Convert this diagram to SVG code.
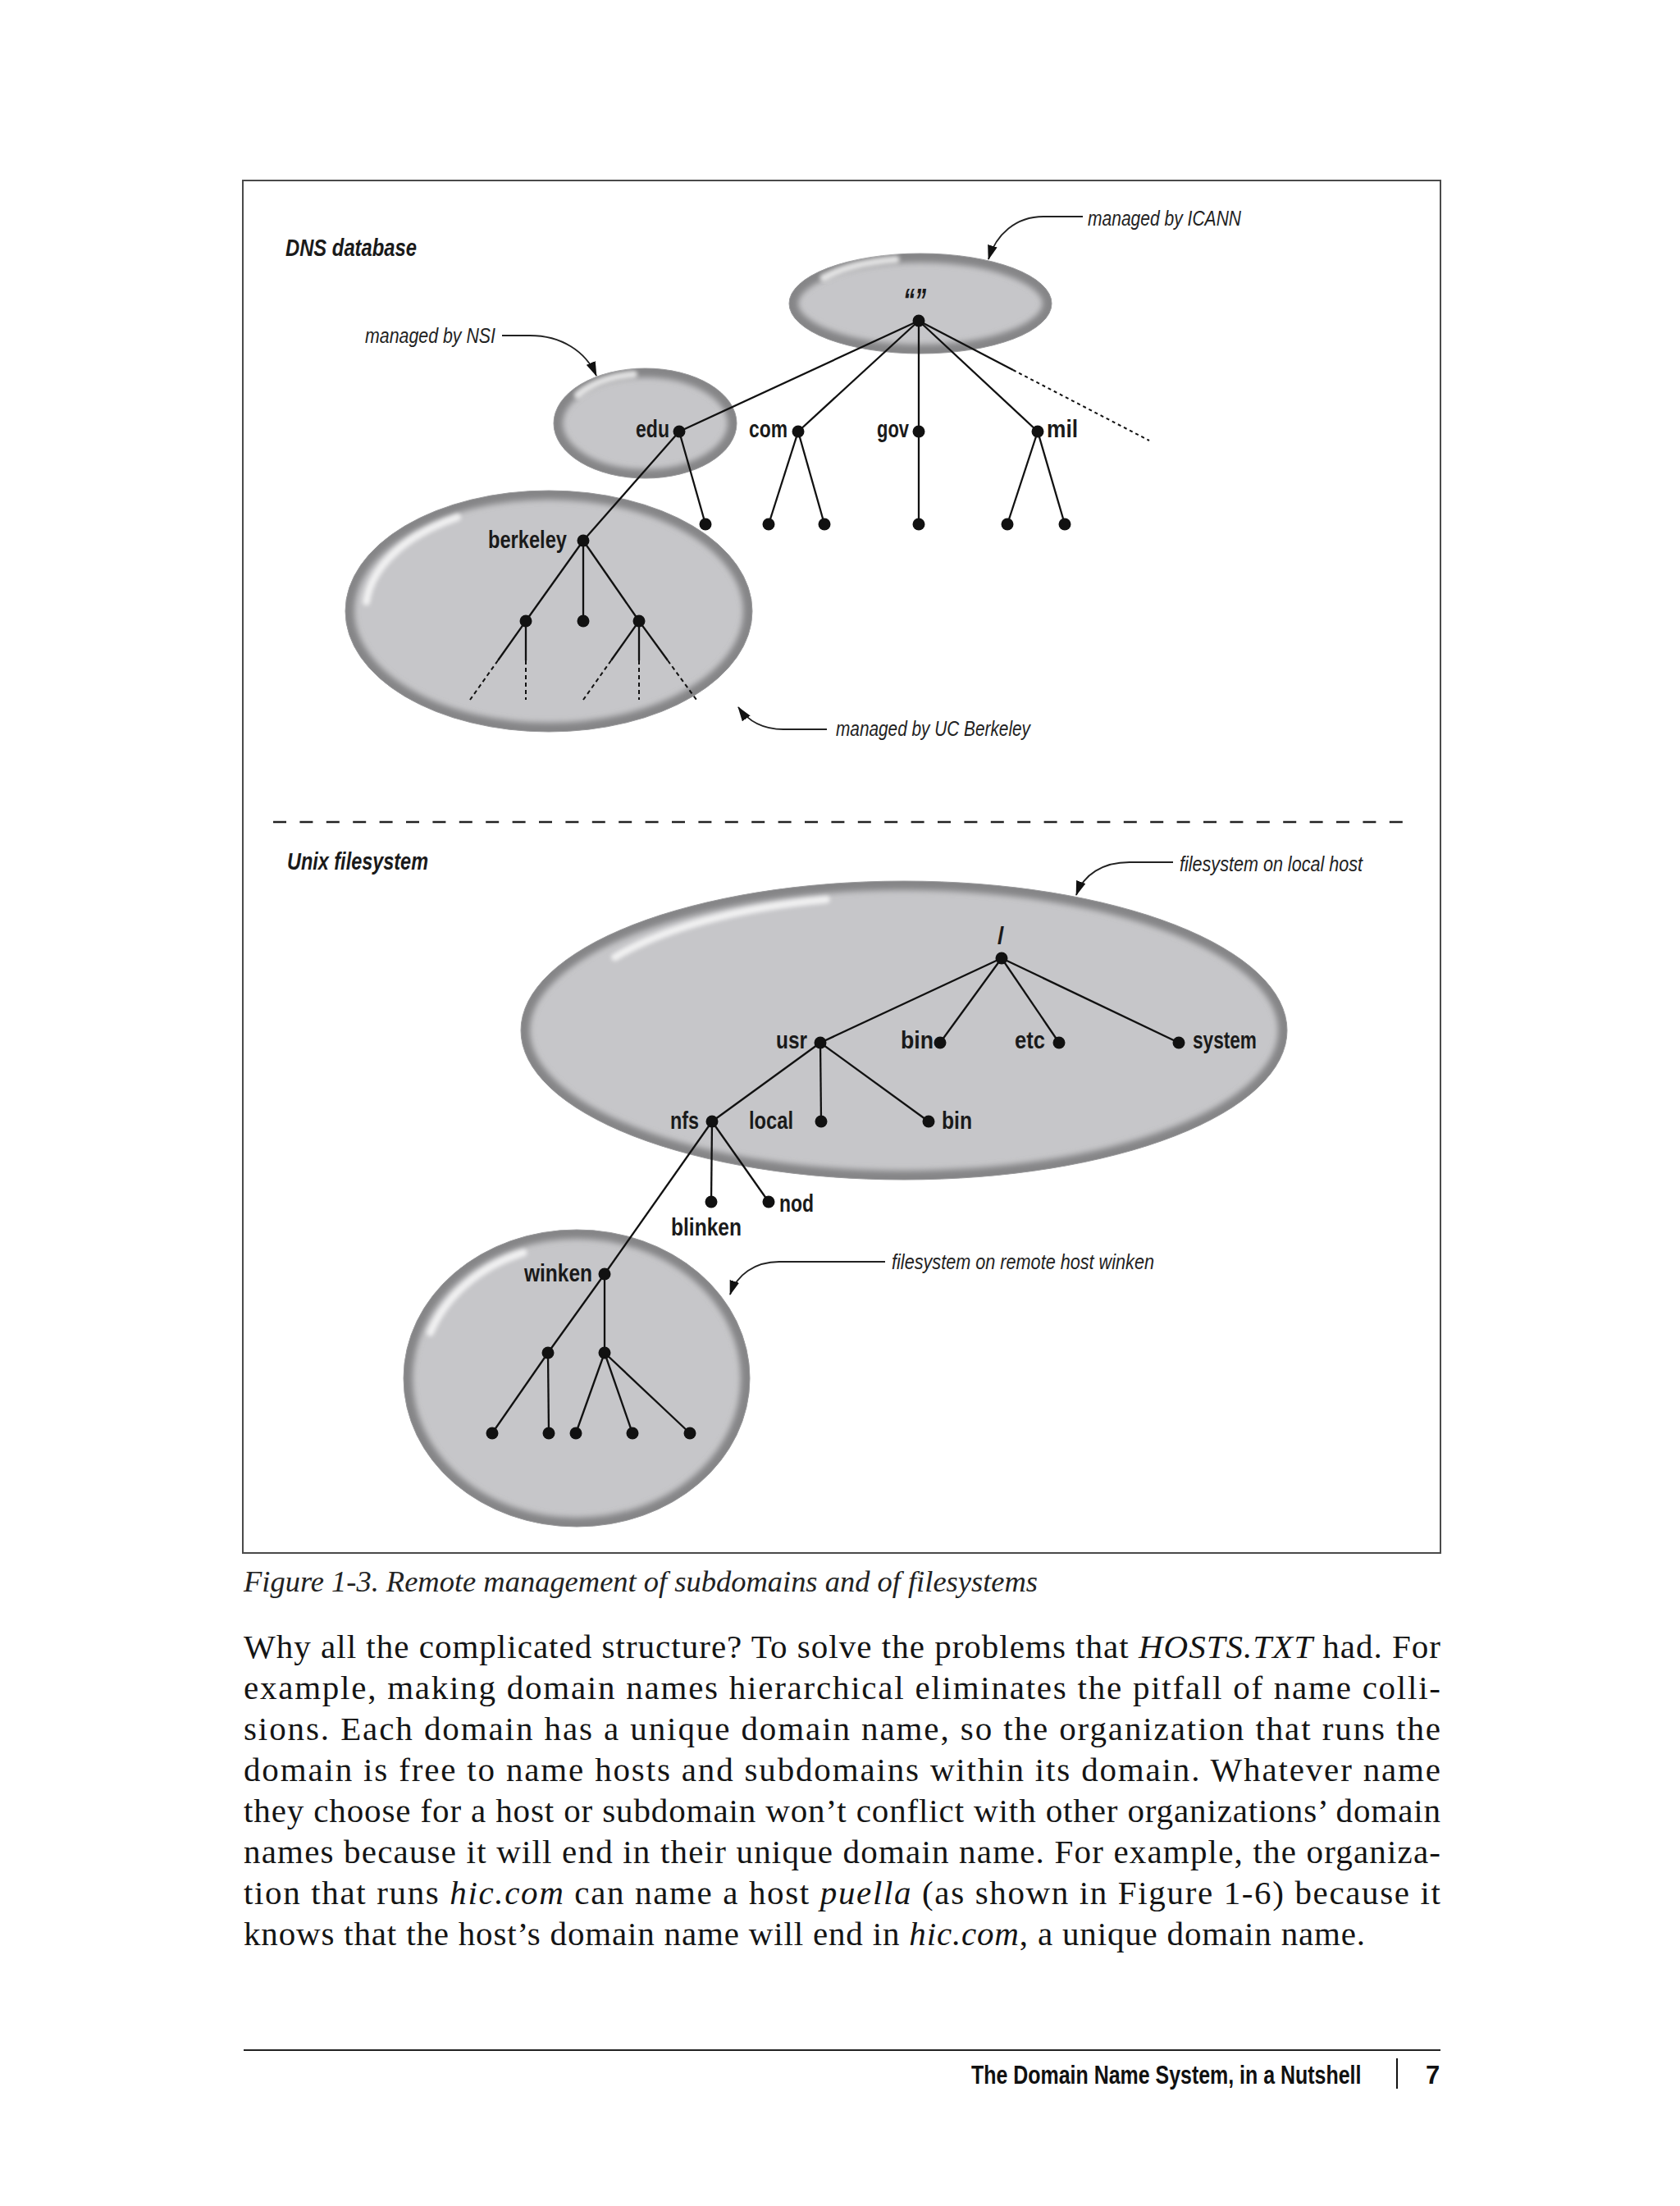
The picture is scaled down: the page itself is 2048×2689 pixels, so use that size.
<svg xmlns="http://www.w3.org/2000/svg" width="2048" height="2689" viewBox="0 0 2048 2689">
<style>
.frame{fill:none;stroke:#4a4a4a;stroke-width:2}
.bfill{fill:#c6c6c9}
.brim{fill:none;stroke:#858587;stroke-width:22}
.bedge{fill:none;stroke:#9a9a9c;stroke-width:1}
.hl{fill:none;stroke:#ffffff;stroke-width:9;stroke-linecap:round;opacity:0.75}
.ln{stroke:#111;stroke-width:2.3;fill:none}
.dash{stroke:#111;stroke-width:2;fill:none;stroke-dasharray:5 4}
.dot2{stroke:#111;stroke-width:2;fill:none;stroke-dasharray:4 4}
.lead{stroke:#222;stroke-width:1.8;fill:none}
.sep{stroke:#222;stroke-width:2.5;stroke-dasharray:16 16.4}
.nd{fill:#111}
.lbl{font-family:"Liberation Sans",Arial,sans-serif;font-weight:bold;font-size:29px;fill:#1a1a1a}
.qt{font-family:"Liberation Sans",Arial,sans-serif;font-weight:bold;font-style:italic;font-size:40px;fill:#1a1a1a}
.ann{font-family:"Liberation Sans",Arial,sans-serif;font-style:italic;font-size:25px;fill:#222}
.hd{font-family:"Liberation Sans",Arial,sans-serif;font-style:italic;font-weight:bold;font-size:29px;fill:#1a1a1a}
.body{font-family:"Liberation Serif","Times New Roman",serif;font-size:41px;fill:#141414}
.cap{font-family:"Liberation Serif","Times New Roman",serif;font-style:italic;font-size:35px;fill:#222}
.foot{font-family:"Liberation Sans",Arial,sans-serif;font-weight:bold;font-size:31px;fill:#111}
.it{font-style:italic}
</style>
<defs>
<filter id="soft" x="-10%" y="-10%" width="120%" height="120%"><feGaussianBlur stdDeviation="3.5"/></filter>
<filter id="hlblur" x="-20%" y="-30%" width="140%" height="160%"><feGaussianBlur stdDeviation="2.4"/></filter>
<clipPath id="cRoot"><ellipse cx="1122" cy="370" rx="160" ry="61"/></clipPath>
<clipPath id="cEdu"><ellipse cx="786.5" cy="516" rx="111.5" ry="67"/></clipPath>
<clipPath id="cBerk"><ellipse cx="669" cy="745" rx="248" ry="147"/></clipPath>
<clipPath id="cLocal"><ellipse cx="1102" cy="1256" rx="467" ry="182"/></clipPath>
<clipPath id="cWink"><ellipse cx="703" cy="1680" rx="211" ry="181"/></clipPath>
<marker id="arr" markerWidth="18" markerHeight="12" refX="17" refY="6" orient="auto" markerUnits="userSpaceOnUse"><path d="M0,0 L18,6 L0,12 Z" fill="#111"/></marker>
</defs>
<rect width="2048" height="2689" fill="#ffffff"/>
<rect class="frame" x="296" y="220" width="1460" height="1673"/>

<g id="zone-root">
<ellipse class="bfill" cx="1122" cy="370" rx="160" ry="61"/>
<ellipse class="brim" cx="1122" cy="370" rx="160" ry="61" clip-path="url(#cRoot)" filter="url(#soft)"/>
<ellipse class="bedge" cx="1122" cy="370" rx="160" ry="61"/>
<path class="hl" filter="url(#hlblur)" d="M1004,338.5 A144,54.9 0 0 1 1092.1,316.3"/>
</g>
<g id="zone-edu">
<ellipse class="bfill" cx="786.5" cy="516" rx="111.5" ry="67"/>
<ellipse class="brim" cx="786.5" cy="516" rx="111.5" ry="67" clip-path="url(#cEdu)" filter="url(#soft)"/>
<ellipse class="bedge" cx="786.5" cy="516" rx="111.5" ry="67"/>
<path class="hl" filter="url(#hlblur)" d="M704.3,481.4 A100.35,60.3 0 0 1 772.5,456.3"/>
</g>
<g id="zone-berkeley">
<ellipse class="bfill" cx="669" cy="745" rx="248" ry="147"/>
<ellipse class="brim" cx="669" cy="745" rx="248" ry="147" clip-path="url(#cBerk)" filter="url(#soft)"/>
<ellipse class="bedge" cx="669" cy="745" rx="248" ry="147"/>
<path class="hl" filter="url(#hlblur)" d="M446.6,733.5 A223.2,132.3 0 0 1 557.4,630.4"/>
</g>
<g id="zone-local">
<ellipse class="bfill" cx="1102" cy="1256" rx="467" ry="182"/>
<ellipse class="brim" cx="1102" cy="1256" rx="467" ry="182" clip-path="url(#cLocal)" filter="url(#soft)"/>
<ellipse class="bedge" cx="1102" cy="1256" rx="467" ry="182"/>
<path class="hl" filter="url(#hlblur)" d="M749.5,1166.8 A420.3,163.8 0 0 1 1007.4,1096.4"/>
</g>
<g id="zone-winken">
<ellipse class="bfill" cx="703" cy="1680" rx="211" ry="181"/>
<ellipse class="brim" cx="703" cy="1680" rx="211" ry="181" clip-path="url(#cWink)" filter="url(#soft)"/>
<ellipse class="bedge" cx="703" cy="1680" rx="211" ry="181"/>
<path class="hl" filter="url(#hlblur)" d="M524.6,1624.3 A189.9,162.9 0 0 1 638.1,1526.9"/>
</g>

<line class="sep" x1="333" y1="1002" x2="1715" y2="1002"/>

<g id="connectors">
<line class="ln" x1="1120" y1="391" x2="828" y2="526"/>
<line class="ln" x1="1120" y1="391" x2="973" y2="526"/>
<line class="ln" x1="1120" y1="391" x2="1120" y2="526"/>
<line class="ln" x1="1120" y1="391" x2="1265" y2="526"/>
<line class="ln" x1="1120" y1="391" x2="1235" y2="451"/>
<line class="dot2" x1="1235" y1="451" x2="1401" y2="537"/>
<line class="ln" x1="828" y1="526" x2="860" y2="639"/>
<line class="ln" x1="828" y1="526" x2="711" y2="659"/>
<line class="ln" x1="973" y1="526" x2="937" y2="639"/>
<line class="ln" x1="973" y1="526" x2="1005" y2="639"/>
<line class="ln" x1="1120" y1="526" x2="1120" y2="639"/>
<line class="ln" x1="1265" y1="526" x2="1228" y2="639"/>
<line class="ln" x1="1265" y1="526" x2="1298" y2="639"/>
<line class="ln" x1="711" y1="659" x2="641" y2="757"/>
<line class="ln" x1="711" y1="659" x2="711" y2="757"/>
<line class="ln" x1="711" y1="659" x2="779" y2="757"/>
<line class="ln" x1="641" y1="757" x2="607" y2="805"/>
<line class="dash" x1="607" y1="805" x2="573" y2="853"/>
<line class="ln" x1="641" y1="757" x2="641" y2="805"/>
<line class="dash" x1="641" y1="805" x2="641" y2="853"/>
<line class="ln" x1="779" y1="757" x2="745" y2="805"/>
<line class="dash" x1="745" y1="805" x2="711" y2="853"/>
<line class="ln" x1="779" y1="757" x2="779" y2="805"/>
<line class="dash" x1="779" y1="805" x2="779" y2="853"/>
<line class="ln" x1="779" y1="757" x2="814" y2="805"/>
<line class="dash" x1="814" y1="805" x2="849" y2="853"/>
<line class="ln" x1="1221" y1="1168" x2="1000" y2="1271"/>
<line class="ln" x1="1221" y1="1168" x2="1146" y2="1271"/>
<line class="ln" x1="1221" y1="1168" x2="1291" y2="1271"/>
<line class="ln" x1="1221" y1="1168" x2="1437" y2="1271"/>
<line class="ln" x1="1000" y1="1271" x2="868" y2="1367"/>
<line class="ln" x1="1000" y1="1271" x2="1001" y2="1367"/>
<line class="ln" x1="1000" y1="1271" x2="1132" y2="1367"/>
<line class="ln" x1="868" y1="1367" x2="867" y2="1465"/>
<line class="ln" x1="868" y1="1367" x2="937" y2="1465"/>
<line class="ln" x1="868" y1="1367" x2="737" y2="1553"/>
<line class="ln" x1="737" y1="1553" x2="668" y2="1649"/>
<line class="ln" x1="737" y1="1553" x2="737" y2="1649"/>
<line class="ln" x1="668" y1="1649" x2="600" y2="1747"/>
<line class="ln" x1="668" y1="1649" x2="669" y2="1747"/>
<line class="ln" x1="737" y1="1649" x2="702" y2="1747"/>
<line class="ln" x1="737" y1="1649" x2="771" y2="1747"/>
<line class="ln" x1="737" y1="1649" x2="841" y2="1747"/>
<path class="lead" marker-end="url(#arr)" d="M1320,264 L1272,264 C1238,264 1214,286 1205,316"/>
<path class="lead" marker-end="url(#arr)" d="M612,409 L646,409 C684,409 714,428 727,458"/>
<path class="lead" marker-end="url(#arr)" d="M1008,889 L955,889 C930,889 912,879 900,862"/>
<path class="lead" marker-end="url(#arr)" d="M1430,1051 L1377,1051 C1344,1051 1321,1066 1312,1091"/>
<path class="lead" marker-end="url(#arr)" d="M1079,1538 L950,1538 C920,1538 898,1554 890,1578"/>
</g>

<g id="node-root"><circle class="nd" cx="1120" cy="391" r="7.5"/><text class="qt" x="1101" y="380" textLength="28" lengthAdjust="spacingAndGlyphs">“”</text></g>
<g id="node-edu"><circle class="nd" cx="828" cy="526" r="7.5"/><text class="lbl" x="775" y="533" textLength="41" lengthAdjust="spacingAndGlyphs">edu</text></g>
<g id="node-com"><circle class="nd" cx="973" cy="526" r="7.5"/><text class="lbl" x="913" y="533" textLength="47" lengthAdjust="spacingAndGlyphs">com</text></g>
<g id="node-gov"><circle class="nd" cx="1120" cy="526" r="7.5"/><text class="lbl" x="1069" y="533" textLength="39" lengthAdjust="spacingAndGlyphs">gov</text></g>
<g id="node-mil"><circle class="nd" cx="1265" cy="526" r="7.5"/><text class="lbl" x="1276" y="533" textLength="38" lengthAdjust="spacingAndGlyphs">mil</text></g>
<g id="node-dns-leaves">
<circle class="nd" cx="860" cy="639" r="7.5"/><circle class="nd" cx="937" cy="639" r="7.5"/><circle class="nd" cx="1005" cy="639" r="7.5"/>
<circle class="nd" cx="1120" cy="639" r="7.5"/><circle class="nd" cx="1228" cy="639" r="7.5"/><circle class="nd" cx="1298" cy="639" r="7.5"/>
</g>
<g id="node-berkeley"><circle class="nd" cx="711" cy="659" r="7.5"/><text class="lbl" x="595" y="668" textLength="96" lengthAdjust="spacingAndGlyphs">berkeley</text></g>
<g id="node-berkeley-children">
<circle class="nd" cx="641" cy="757" r="7.5"/><circle class="nd" cx="711" cy="757" r="7.5"/><circle class="nd" cx="779" cy="757" r="7.5"/>
</g>

<g id="node-slash"><circle class="nd" cx="1221" cy="1168" r="7.5"/><text class="lbl" x="1220" y="1151" text-anchor="middle">/</text></g>
<g id="node-usr"><circle class="nd" cx="1000" cy="1271" r="7.5"/><text class="lbl" x="946" y="1278" textLength="38" lengthAdjust="spacingAndGlyphs">usr</text></g>
<g id="node-bin"><circle class="nd" cx="1146" cy="1271" r="7.5"/><text class="lbl" x="1098" y="1278" textLength="40" lengthAdjust="spacingAndGlyphs">bin</text></g>
<g id="node-etc"><circle class="nd" cx="1291" cy="1271" r="7.5"/><text class="lbl" x="1237" y="1278" textLength="37" lengthAdjust="spacingAndGlyphs">etc</text></g>
<g id="node-system"><circle class="nd" cx="1437" cy="1271" r="7.5"/><text class="lbl" x="1454" y="1278" textLength="78" lengthAdjust="spacingAndGlyphs">system</text></g>
<g id="node-nfs"><circle class="nd" cx="868" cy="1367" r="7.5"/><text class="lbl" x="817" y="1376" textLength="35" lengthAdjust="spacingAndGlyphs">nfs</text></g>
<g id="node-local"><circle class="nd" cx="1001" cy="1367" r="7.5"/><text class="lbl" x="913" y="1376" textLength="54" lengthAdjust="spacingAndGlyphs">local</text></g>
<g id="node-bin2"><circle class="nd" cx="1132" cy="1367" r="7.5"/><text class="lbl" x="1148" y="1376" textLength="37" lengthAdjust="spacingAndGlyphs">bin</text></g>
<g id="node-blinken"><circle class="nd" cx="867" cy="1465" r="7.5"/><text class="lbl" x="818" y="1506" textLength="86" lengthAdjust="spacingAndGlyphs">blinken</text></g>
<g id="node-nod"><circle class="nd" cx="937" cy="1465" r="7.5"/><text class="lbl" x="950" y="1477" textLength="42" lengthAdjust="spacingAndGlyphs">nod</text></g>
<g id="node-winken"><circle class="nd" cx="737" cy="1553" r="7.5"/><text class="lbl" x="639" y="1562" textLength="83" lengthAdjust="spacingAndGlyphs">winken</text></g>
<g id="node-winken-children">
<circle class="nd" cx="668" cy="1649" r="7.5"/><circle class="nd" cx="737" cy="1649" r="7.5"/>
<circle class="nd" cx="600" cy="1747" r="7.5"/><circle class="nd" cx="669" cy="1747" r="7.5"/><circle class="nd" cx="702" cy="1747" r="7.5"/><circle class="nd" cx="771" cy="1747" r="7.5"/><circle class="nd" cx="841" cy="1747" r="7.5"/>
</g>

<g id="labels">
<text class="hd" x="348" y="312" textLength="160" lengthAdjust="spacingAndGlyphs">DNS database</text>
<text class="hd" x="350" y="1060" textLength="172" lengthAdjust="spacingAndGlyphs">Unix filesystem</text>
<text class="ann" x="1326" y="275" textLength="187" lengthAdjust="spacingAndGlyphs">managed by ICANN</text>
<text class="ann" x="445" y="418" textLength="159" lengthAdjust="spacingAndGlyphs">managed by NSI</text>
<text class="ann" x="1019" y="897" textLength="237" lengthAdjust="spacingAndGlyphs">managed by UC Berkeley</text>
<text class="ann" x="1438" y="1062" textLength="223" lengthAdjust="spacingAndGlyphs">filesystem on local host</text>
<text class="ann" x="1087" y="1547" textLength="320" lengthAdjust="spacingAndGlyphs">filesystem on remote host winken</text>
</g>

<g id="page-text">
<text class="cap" x="297" y="1940" textLength="968" lengthAdjust="spacingAndGlyphs">Figure 1-3. Remote management of subdomains and of filesystems</text>
<text class="body" x="297" y="2021" textLength="1459" lengthAdjust="spacing">Why all the complicated structure? To solve the problems that <tspan class="it">HOSTS.TXT</tspan> had. For</text>
<text class="body" x="297" y="2071" textLength="1459" lengthAdjust="spacing">example, making domain names hierarchical eliminates the pitfall of name colli-</text>
<text class="body" x="297" y="2121" textLength="1459" lengthAdjust="spacing">sions. Each domain has a unique domain name, so the organization that runs the</text>
<text class="body" x="297" y="2171" textLength="1459" lengthAdjust="spacing">domain is free to name hosts and subdomains within its domain. Whatever name</text>
<text class="body" x="297" y="2221" textLength="1459" lengthAdjust="spacing">they choose for a host or subdomain won’t conflict with other organizations’ domain</text>
<text class="body" x="297" y="2271" textLength="1459" lengthAdjust="spacing">names because it will end in their unique domain name. For example, the organiza-</text>
<text class="body" x="297" y="2321" textLength="1459" lengthAdjust="spacing">tion that runs <tspan class="it">hic.com</tspan> can name a host <tspan class="it">puella</tspan> (as shown in Figure 1-6) because it</text>
<text class="body" x="297" y="2371" textLength="1367" lengthAdjust="spacing">knows that the host’s domain name will end in <tspan class="it">hic.com</tspan>, a unique domain name.</text>
<line x1="297" y1="2499" x2="1756" y2="2499" stroke="#222" stroke-width="2"/>
<text class="foot" transform="translate(1184,2540) scale(0.805,1)" x="0" y="0">The Domain Name System, in a Nutshell</text>
<line x1="1703" y1="2509" x2="1703" y2="2546" stroke="#111" stroke-width="2"/>
<text class="foot" x="1738" y="2540">7</text>
</g>
</svg>
